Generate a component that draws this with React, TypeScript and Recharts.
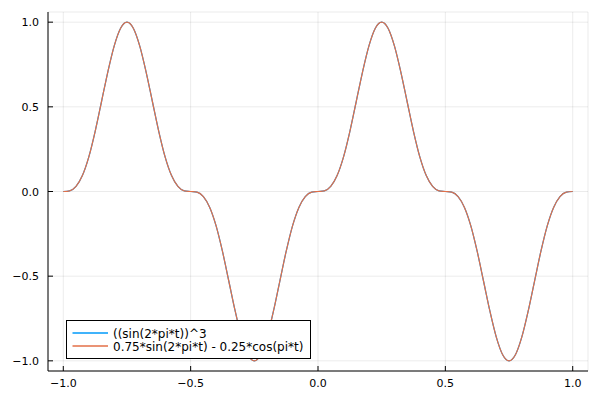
import React from "react";
import {
  LineChart,
  Line,
  XAxis,
  YAxis,
  CartesianGrid,
  Legend,
} from "recharts";

// t sampled every 0.025 from -1 to 1
const tValues = [
  -1, -0.975, -0.95, -0.925, -0.9, -0.875, -0.85, -0.825, -0.8, -0.775,
  -0.75, -0.725, -0.7, -0.675, -0.65, -0.625, -0.6, -0.575, -0.55, -0.525,
  -0.5, -0.475, -0.45, -0.425, -0.4, -0.375, -0.35, -0.325, -0.3, -0.275,
  -0.25, -0.225, -0.2, -0.175, -0.15, -0.125, -0.1, -0.075, -0.05, -0.025,
  0, 0.025, 0.05, 0.075, 0.1, 0.125, 0.15, 0.175, 0.2, 0.225,
  0.25, 0.275, 0.3, 0.325, 0.35, 0.375, 0.4, 0.425, 0.45, 0.475,
  0.5, 0.525, 0.55, 0.575, 0.6, 0.625, 0.65, 0.675, 0.7, 0.725,
  0.75, 0.775, 0.8, 0.825, 0.85, 0.875, 0.9, 0.925, 0.95, 0.975,
  1,
];

const cubeValues = [
  0, 0.004, 0.03, 0.094, 0.203, 0.354, 0.53, 0.707, 0.86, 0.964,
  1, 0.964, 0.86, 0.707, 0.53, 0.354, 0.203, 0.094, 0.03, 0.004,
  0, -0.004, -0.03, -0.094, -0.203, -0.354, -0.53, -0.707, -0.86, -0.964,
  -1, -0.964, -0.86, -0.707, -0.53, -0.354, -0.203, -0.094, -0.03, -0.004,
  0, 0.004, 0.03, 0.094, 0.203, 0.354, 0.53, 0.707, 0.86, 0.964,
  1, 0.964, 0.86, 0.707, 0.53, 0.354, 0.203, 0.094, 0.03, 0.004,
  0, -0.004, -0.03, -0.094, -0.203, -0.354, -0.53, -0.707, -0.86, -0.964,
  -1, -0.964, -0.86, -0.707, -0.53, -0.354, -0.203, -0.094, -0.03, -0.004,
  0,
];

const mixValues = [
  0, 0.004, 0.03, 0.094, 0.203, 0.354, 0.53, 0.707, 0.86, 0.964,
  1, 0.964, 0.86, 0.707, 0.53, 0.354, 0.203, 0.094, 0.03, 0.004,
  0, -0.004, -0.03, -0.094, -0.203, -0.354, -0.53, -0.707, -0.86, -0.964,
  -1, -0.964, -0.86, -0.707, -0.53, -0.354, -0.203, -0.094, -0.03, -0.004,
  0, 0.004, 0.03, 0.094, 0.203, 0.354, 0.53, 0.707, 0.86, 0.964,
  1, 0.964, 0.86, 0.707, 0.53, 0.354, 0.203, 0.094, 0.03, 0.004,
  0, -0.004, -0.03, -0.094, -0.203, -0.354, -0.53, -0.707, -0.86, -0.964,
  -1, -0.964, -0.86, -0.707, -0.53, -0.354, -0.203, -0.094, -0.03, -0.004,
  0,
];

const xTicks = [-1, -0.5, 0, 0.5, 1];
const yTicks = [-1, -0.5, 0, 0.5, 1];

const seriesNames = ["((sin(2*pi*t))^3", "0.75*sin(2*pi*t) - 0.25*cos(pi*t)"];
const seriesColors = ["#009AFA", "#E36F47"];

const data = tValues.map((t, i) => ({ t, a: cubeValues[i], b: mixValues[i] }));

const FONT = "'DejaVu Sans', sans-serif";

const fmt = (v: number) => {
  const s = v.toFixed(1);
  return v < 0 ? "\u2212" + s.slice(1) : s;
};

const XTick = (props: any) => {
  const { x, y, payload } = props;
  return (
    <g>
      <line x1={x} x2={x} y1={y} y2={y - 5} stroke="#000" strokeWidth={1} />
      <text x={x} y={y + 16} textAnchor="middle" fontSize={11} fontFamily={FONT} fill="#000">
        {fmt(payload.value)}
      </text>
    </g>
  );
};

const YTick = (props: any) => {
  const { x, y, payload } = props;
  return (
    <g>
      <line x1={x} x2={x + 5} y1={y} y2={y} stroke="#000" strokeWidth={1} />
      <text x={x - 9} y={y + 4} textAnchor="end" fontSize={11} fontFamily={FONT} fill="#000">
        {fmt(payload.value)}
      </text>
    </g>
  );
};

// Plots.jl-style boxed legend, drawn in svg so the swatch lines stay crisp
const LegendBox = () => (
  <svg width={245} height={39} style={{ display: "block" }}>
    <rect x={0.5} y={0.5} width={244} height={38} fill="#fff" stroke="#000" strokeWidth={1} />
    {seriesNames.map((name, i) => (
      <g key={name}>
        <line
          x1={6.5}
          x2={42}
          y1={13 + i * 13}
          y2={13 + i * 13}
          stroke={seriesColors[i]}
          strokeWidth={1.5}
        />
        <text x={47} y={17.5 + i * 13} fontSize={12} fontFamily={FONT} fill="#000">
          {name}
        </text>
      </g>
    ))}
  </svg>
);

export default function App() {
  return (
    <div style={{ position: "fixed", left: 0, top: 0, width: 600, height: 400, background: "#fff" }}>
      <LineChart
        width={600}
        height={400}
        data={data}
        margin={{ top: 12, right: 12, bottom: 0, left: 0 }}
      >
        <CartesianGrid stroke="#000" strokeOpacity={0.08} strokeWidth={1} />
        <XAxis
          dataKey="t"
          type="number"
          domain={[-1.06, 1.06]}
          ticks={xTicks}
          allowDataOverflow
          height={29}
          tickSize={0}
          tickMargin={0}
          tickLine={false}
          axisLine={{ stroke: "#000", strokeWidth: 1 }}
          tick={<XTick />}
          interval={0}
        />
        <YAxis
          type="number"
          domain={[-1.06, 1.06]}
          ticks={yTicks}
          allowDataOverflow
          width={48}
          tickSize={0}
          tickMargin={0}
          tickLine={false}
          axisLine={{ stroke: "#000", strokeWidth: 1 }}
          tick={<YTick />}
          interval={0}
        />
        <Legend
          layout="vertical"
          align="center"
          verticalAlign="middle"
          content={<LegendBox />}
          wrapperStyle={{ left: 66, top: 320, width: 245, height: 39 }}
        />
        <Line
          type="monotone"
          dataKey="a"
          stroke={seriesColors[0]}
          strokeWidth={1.2}
          dot={false}
          isAnimationActive={false}
        />
        <Line
          type="monotone"
          dataKey="b"
          stroke={seriesColors[1]}
          strokeWidth={1.2}
          dot={false}
          isAnimationActive={false}
        />
      </LineChart>
    </div>
  );
}
